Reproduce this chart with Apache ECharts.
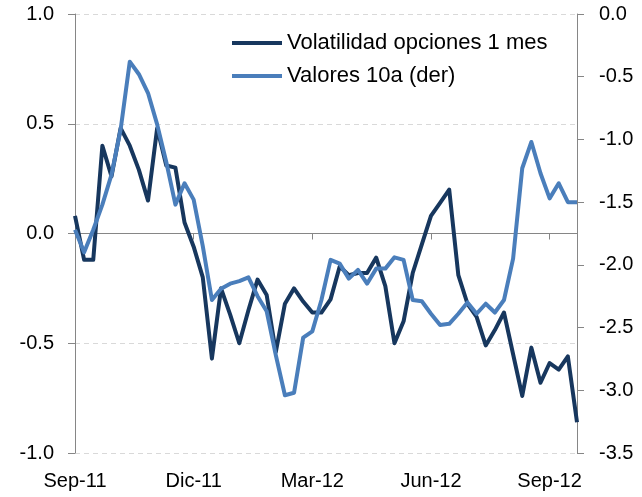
<!DOCTYPE html>
<html>
<head>
<meta charset="utf-8">
<script src="https://cdn.jsdelivr.net/npm/echarts@6/dist/echarts.min.js"></script>
<style>
  html, body { margin: 0; padding: 0; background: #fff; }
  #chart { width: 642px; height: 497px; }
</style>
</head>
<body>
<div id="chart"></div>
<script>
// etiquetas del eje X (una cada 13 semanas)
const tickLabels = ['Sep-11', 'Dic-11', 'Mar-12', 'Jun-12', 'Sep-12']

// Volatilidad opciones 1 mes (eje izq.)
const volatilidad = [
  0.08, -0.12, -0.12, 0.40, 0.26, 0.48, 0.40, 0.29, 0.15, 0.48,
  0.31, 0.30, 0.05, -0.06, -0.20, -0.57, -0.25, -0.37, -0.50, -0.35,
  -0.21, -0.28, -0.54, -0.32, -0.25, -0.31, -0.36, -0.36, -0.30, -0.15,
  -0.19, -0.18, -0.18, -0.11, -0.24, -0.50, -0.40, -0.18, -0.05, 0.08,
  0.14, 0.20, -0.19, -0.32, -0.38, -0.51, -0.44, -0.36, -0.55, -0.74,
  -0.52, -0.68, -0.59, -0.62, -0.56, -0.86
]

// Valores 10a (eje der.)
const valores = [
  -1.72, -1.90, -1.72, -1.52, -1.28, -0.92, -0.38, -0.48, -0.63, -0.88,
  -1.18, -1.52, -1.35, -1.48, -1.85, -2.28, -2.19, -2.15, -2.13, -2.10,
  -2.25, -2.37, -2.72, -3.04, -3.02, -2.58, -2.53, -2.28, -1.96, -1.99,
  -2.11, -2.04, -2.15, -2.03, -2.03, -1.94, -1.96, -2.28, -2.29, -2.39,
  -2.48, -2.47, -2.39, -2.30, -2.39, -2.31, -2.38, -2.28, -1.95, -1.23,
  -1.02, -1.27, -1.47, -1.35, -1.50, -1.50
]

const weeks = volatilidad.map((_, i) => i)

const FONT = 'Liberation Sans, Arial, sans-serif'
const AXIS_COLOR = '#868686'

const chart = echarts.init(document.getElementById('chart'), null, { renderer: 'canvas' })

chart.setOption({
  animation: false,
  backgroundColor: '#fff',
  grid: { left: 75, right: 65, top: 14, bottom: 44, containLabel: false },
  legend: {
    orient: 'vertical',
    left: 227,
    top: 27,
    icon: 'rect',
    itemWidth: 50,
    itemHeight: 4,
    itemGap: 11,
    textStyle: { fontFamily: FONT, fontSize: 22, color: '#000' },
    data: ['Volatilidad opciones 1 mes', 'Valores 10a (der)']
  },
  xAxis: [
    {
      // línea del eje cruzando en 0
      type: 'category',
      data: weeks,
      position: 'top',
      boundaryGap: false,
      axisLine: { onZero: true, onZeroAxisIndex: 0, lineStyle: { color: AXIS_COLOR, width: 1 } },
      axisTick: { show: true, inside: true, interval: 12, length: 6, lineStyle: { color: AXIS_COLOR } },
      axisLabel: { show: false },
      splitLine: { show: false }
    },
    {
      // etiquetas abajo
      type: 'category',
      data: weeks,
      position: 'bottom',
      boundaryGap: false,
      axisLine: { show: false, onZero: false },
      axisTick: { show: false },
      axisLabel: {
        interval: 12,
        margin: 18,
        fontFamily: FONT,
        fontSize: 20,
        color: '#000',
        formatter: (v, i) => tickLabels[i / 13] || ''
      },
      splitLine: { show: false }
    }
  ],
  yAxis: [
    {
      type: 'value',
      min: -1,
      max: 1,
      interval: 0.5,
      position: 'left',
      axisLine: { show: true, lineStyle: { color: AXIS_COLOR } },
      axisTick: { show: true, length: 7, lineStyle: { color: AXIS_COLOR } },
      axisLabel: {
        margin: 21,
        fontFamily: FONT,
        fontSize: 20,
        color: '#000',
        formatter: v => v.toFixed(1)
      },
      splitLine: { show: true, lineStyle: { color: '#D9D9D9', type: [5, 4] } }
    },
    {
      type: 'value',
      min: -3.5,
      max: 0,
      interval: 0.5,
      position: 'right',
      axisLine: { show: true, lineStyle: { color: AXIS_COLOR } },
      axisTick: { show: true, length: 7, lineStyle: { color: AXIS_COLOR } },
      axisLabel: {
        margin: 22,
        fontFamily: FONT,
        fontSize: 20,
        color: '#000',
        formatter: v => v.toFixed(1)
      },
      splitLine: { show: false }
    }
  ],
  series: [
    {
      name: 'Volatilidad opciones 1 mes',
      type: 'line',
      xAxisIndex: 0,
      yAxisIndex: 0,
      data: volatilidad,
      symbol: 'none',
      itemStyle: { color: '#17375E' },
      lineStyle: { color: '#17375E', width: 4, join: 'round' }
    },
    {
      name: 'Valores 10a (der)',
      type: 'line',
      xAxisIndex: 0,
      yAxisIndex: 1,
      data: valores,
      symbol: 'none',
      itemStyle: { color: '#4A7EBB' },
      lineStyle: { color: '#4A7EBB', width: 4, join: 'round' }
    }
  ]
})
</script>
</body>
</html>
